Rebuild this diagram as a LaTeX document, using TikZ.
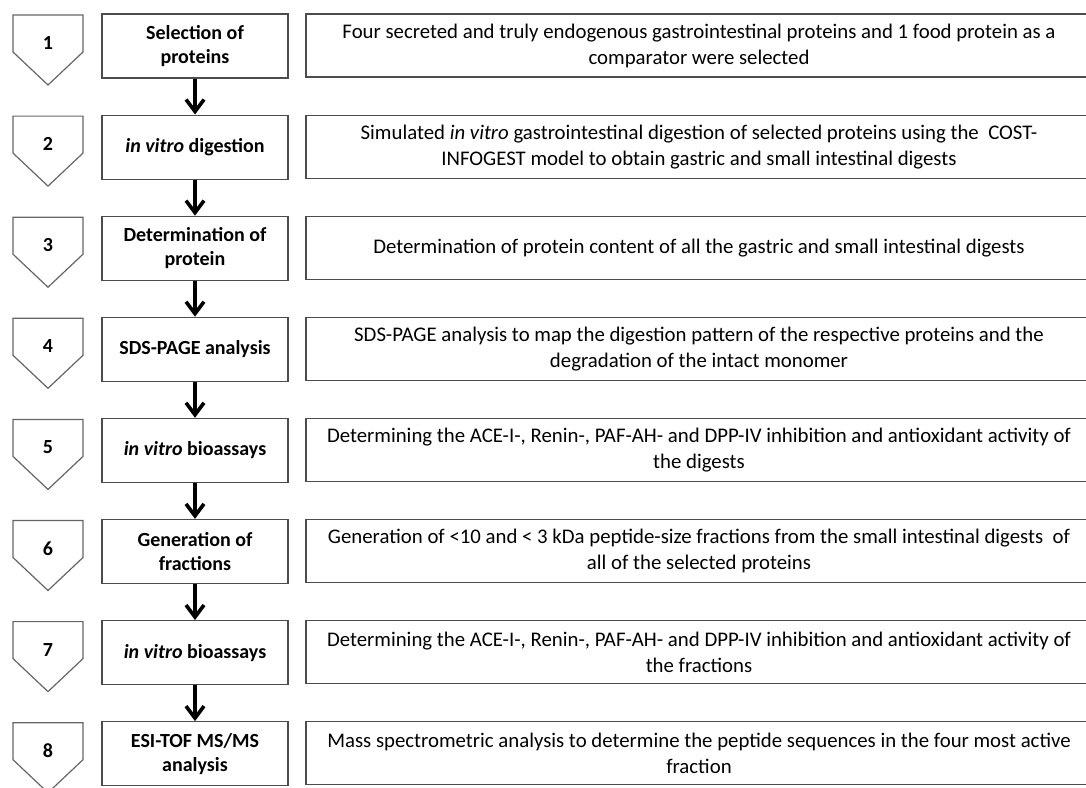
\documentclass[tikz,border=0pt]{standalone}
\usepackage{fontspec}
\setmainfont{Carlito}
\usepackage{tikz}
\usetikzlibrary{arrows.meta}
\pgfdeclarelayer{bg}
\pgfsetlayers{bg,main}

\begin{document}
\begin{tikzpicture}[
        numlabel/.style={inner sep=0pt, font=\fontsize{20}{24}\selectfont\bfseries},
        stepbox/.style={draw=black!70, line width=1.2pt, minimum width=186pt, minimum height=64pt, inner sep=0pt, align=center, font=\fontsize{20}{24}\selectfont\bfseries},
        descbox/.style={draw=black!70, line width=1.2pt, minimum width=786pt, minimum height=63pt, inner sep=0pt, align=center, font=\fontsize{20.8}{26}\selectfont},
        chev/.style={draw=black!60, line width=1.2pt, line join=miter},
        flow/.style={line width=3.6pt, -{Straight Barb[length=12pt, width=18pt]}}
    ]
        \useasboundingbox (0pt, 0pt) rectangle (1086pt, -787pt);
        \node (c1) [numlabel] at (48pt, -43.0pt) {1};
        \node (c2) [numlabel] at (48pt, -144.1pt) {2};
        \node (c3) [numlabel] at (48pt, -245.2pt) {3};
        \node (c4) [numlabel] at (48pt, -346.3pt) {4};
        \node (c5) [numlabel] at (48pt, -447.4pt) {5};
        \node (c6) [numlabel] at (48pt, -548.5pt) {6};
        \node (c7) [numlabel] at (48pt, -649.6pt) {7};
        \node (c8) [numlabel] at (48pt, -750.7pt) {8};
        \node (s1) [stepbox] at (195pt, -46.0pt) {Selection of\\proteins};
        \node (s2) [stepbox] at (195pt, -147.1pt) {\textit{in vitro} digestion};
        \node (s3) [stepbox] at (195pt, -248.2pt) {Determination of\\protein};
        \node (s4) [stepbox] at (195pt, -349.3pt) {SDS-PAGE analysis};
        \node (s5) [stepbox] at (195pt, -450.4pt) {\textit{in vitro} bioassays};
        \node (s6) [stepbox] at (195pt, -551.5pt) {Generation of\\fractions};
        \node (s7) [stepbox] at (195pt, -652.6pt) {\textit{in vitro} bioassays};
        \node (s8) [stepbox] at (195pt, -753.7pt) {ESI-TOF MS/MS\\analysis};
        \node (d1) [descbox] at (699pt, -45.5pt) {Four secreted and truly endogenous gastrointestinal proteins and 1 food protein as a\\comparator were selected};
        \node (d2) [descbox] at (699pt, -146.6pt) {Simulated \textit{in vitro} gastrointestinal digestion of selected proteins using the~ COST-\\INFOGEST model to obtain gastric and small intestinal digests};
        \node (d3) [descbox] at (699pt, -247.7pt) {Determination of protein content of all the gastric and small intestinal digests};
        \node (d4) [descbox] at (699pt, -348.8pt) {SDS-PAGE analysis to map the digestion pattern of the respective proteins and the\\degradation of the intact monomer};
        \node (d5) [descbox] at (699pt, -449.9pt) {Determining the ACE-I-, Renin-, PAF-AH- and DPP-IV inhibition and antioxidant activity of\\the digests};
        \node (d6) [descbox] at (699pt, -551.0pt) {Generation of <10 and < 3 kDa peptide-size fractions from the small intestinal digests~ of\\all of the selected proteins};
        \node (d7) [descbox] at (699pt, -652.1pt) {Determining the ACE-I-, Renin-, PAF-AH- and DPP-IV inhibition and antioxidant activity of\\the fractions};
        \node (d8) [descbox] at (699pt, -753.2pt) {Mass spectrometric analysis to determine the peptide sequences in the four most active\\fraction};
        \begin{pgfonlayer}{bg}
                \fill [white] (0pt, 0pt) rectangle (1086pt, -787pt);
                % number chevrons
                \draw [chev] ([shift={(-35pt,28pt)}]c1.center) -- ++(70pt,0pt) -- ++(0pt,-37pt) -- ++(-35pt,-33pt) -- ++(-35pt,33pt) -- cycle;
                \draw [chev] ([shift={(-35pt,28pt)}]c2.center) -- ++(70pt,0pt) -- ++(0pt,-37pt) -- ++(-35pt,-33pt) -- ++(-35pt,33pt) -- cycle;
                \draw [chev] ([shift={(-35pt,28pt)}]c3.center) -- ++(70pt,0pt) -- ++(0pt,-37pt) -- ++(-35pt,-33pt) -- ++(-35pt,33pt) -- cycle;
                \draw [chev] ([shift={(-35pt,28pt)}]c4.center) -- ++(70pt,0pt) -- ++(0pt,-37pt) -- ++(-35pt,-33pt) -- ++(-35pt,33pt) -- cycle;
                \draw [chev] ([shift={(-35pt,28pt)}]c5.center) -- ++(70pt,0pt) -- ++(0pt,-37pt) -- ++(-35pt,-33pt) -- ++(-35pt,33pt) -- cycle;
                \draw [chev] ([shift={(-35pt,28pt)}]c6.center) -- ++(70pt,0pt) -- ++(0pt,-37pt) -- ++(-35pt,-33pt) -- ++(-35pt,33pt) -- cycle;
                \draw [chev] ([shift={(-35pt,28pt)}]c7.center) -- ++(70pt,0pt) -- ++(0pt,-37pt) -- ++(-35pt,-33pt) -- ++(-35pt,33pt) -- cycle;
                \draw [chev] ([shift={(-35pt,28pt)}]c8.center) -- ++(70pt,0pt) -- ++(0pt,-37pt) -- ++(-35pt,-33pt) -- ++(-35pt,33pt) -- cycle;
                % flow between steps
                \draw (s1) edge [flow] (s2);
                \draw (s2) edge [flow] (s3);
                \draw (s3) edge [flow] (s4);
                \draw (s4) edge [flow] (s5);
                \draw (s5) edge [flow] (s6);
                \draw (s6) edge [flow] (s7);
                \draw (s7) edge [flow] (s8);
        \end{pgfonlayer}
\end{tikzpicture}
\end{document}
